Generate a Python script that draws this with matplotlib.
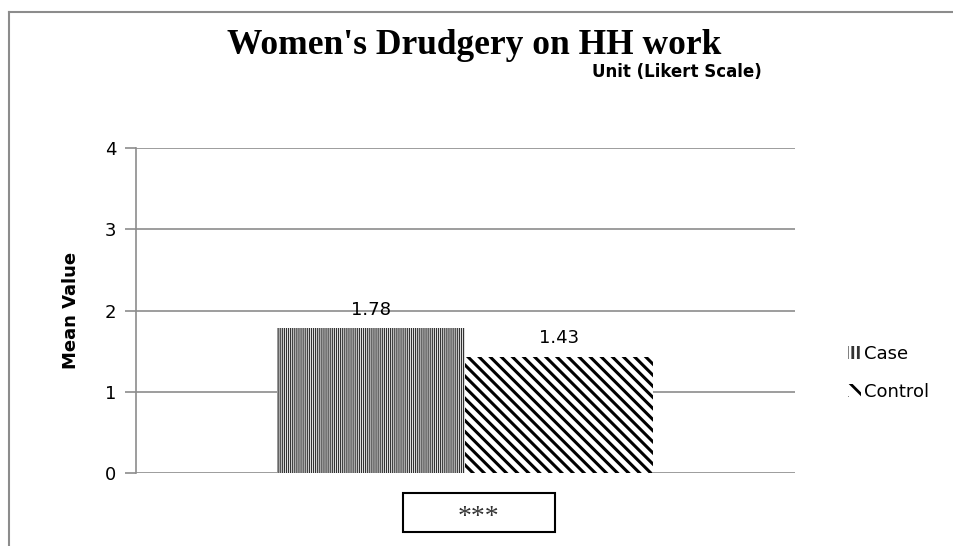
import matplotlib
matplotlib.use("Agg")
import matplotlib.pyplot as plt
from matplotlib.patches import Rectangle, Patch
from matplotlib.lines import Line2D

series = ["Case", "Control"]
values = [1.78, 1.43]
value_labels = ["1.78", "1.43"]
yticks = [0, 1, 2, 3, 4]
title = "Women's Drudgery on HH work"
subtitle = "Unit (Likert Scale)"
ylabel = "Mean Value"
sig = "***"

W, H = 954, 546
fig = plt.figure(figsize=(W / 100, H / 100), dpi=100)
fig.patch.set_facecolor("white")

# outer chart border (top and left visible)
fig.add_artist(Line2D([9 / W, 9 / W], [0, 1 - 12 / H], transform=fig.transFigure, color="#8c8c8c", lw=1.5))
fig.add_artist(Line2D([9 / W, 1], [1 - 12 / H, 1 - 12 / H], transform=fig.transFigure, color="#8c8c8c", lw=1.5))

ax_l, ax_r, ax_t, ax_b = 136, 795, 148, 473
ax = fig.add_axes([ax_l / W, 1 - ax_b / H, (ax_r - ax_l) / W, (ax_b - ax_t) / H])
ax.set_xlim(0, 1)
ax.set_ylim(0, 4)
ax.set_yticks(yticks)
ax.set_yticklabels([str(t) for t in yticks], fontsize=13, family="DejaVu Sans")
ax.yaxis.grid(True, color="#8c8c8c", lw=1.2)
ax.set_axisbelow(True)
ax.set_xticks([])
for s in ["top", "right", "bottom"]:
    ax.spines[s].set_visible(False)
ax.spines["left"].set_color("#8c8c8c")
ax.spines["left"].set_linewidth(1.2)
ax.tick_params(axis="y", length=8, color="#8c8c8c", width=1.2, pad=6)

bw = 188 / (ax_r - ax_l)
center = 0.5
hatches = ["||||||||", "\\\\\\"]
lws = [0.9, 2.2]
hcols = ["#333333", "black"]
xs = [center - bw / 2, center + bw / 2]
for x, v, h, lw, hc, lab in zip(xs, values, hatches, lws, hcols, value_labels):
    plt.rcParams["hatch.linewidth"] = lw
    ax.bar(x, v, width=bw, color="white", edgecolor=hc, hatch=h, linewidth=0)
    ax.text(x, v + 0.12, lab, ha="center", va="bottom", fontsize=13, family="DejaVu Sans")

ax.set_ylabel(ylabel, fontsize=13, fontweight="bold", family="DejaVu Sans", labelpad=18)

fig.text(474 / W, 1 - 45 / H, title, ha="center", va="center", fontsize=25.5,
         fontweight="bold", family="Liberation Serif")
fig.text(762 / W, 1 - 72 / H, subtitle, ha="right", va="center", fontsize=12,
         fontweight="bold", family="DejaVu Sans")

# legend
plt.rcParams["hatch.linewidth"] = 0.8
leg_h1 = Patch(facecolor="white", edgecolor="#333333", hatch="|||", lw=0)
plt.rcParams["hatch.linewidth"] = 2.0
leg_h2 = Patch(facecolor="white", edgecolor="black", hatch="\\\\", lw=0)
leg = fig.legend([leg_h1, leg_h2], series, loc="center left",
                 bbox_to_anchor=(832 / W, 1 - 373 / H), frameon=False,
                 handlelength=0.7, handleheight=0.7, handletextpad=0.2, labelspacing=1.1,
                 prop={"family": "DejaVu Sans", "size": 13})

# significance box
fig.add_artist(Rectangle((403 / W, 1 - 532 / H), 152 / W, 39 / H, transform=fig.transFigure,
                         facecolor="white", edgecolor="black", lw=1.5))
fig.text(478 / W, 1 - 517 / H, sig, ha="center", va="center", fontsize=20,
         family="Liberation Serif", color="#333333")

fig.savefig("out.png", dpi=100, facecolor="white")
